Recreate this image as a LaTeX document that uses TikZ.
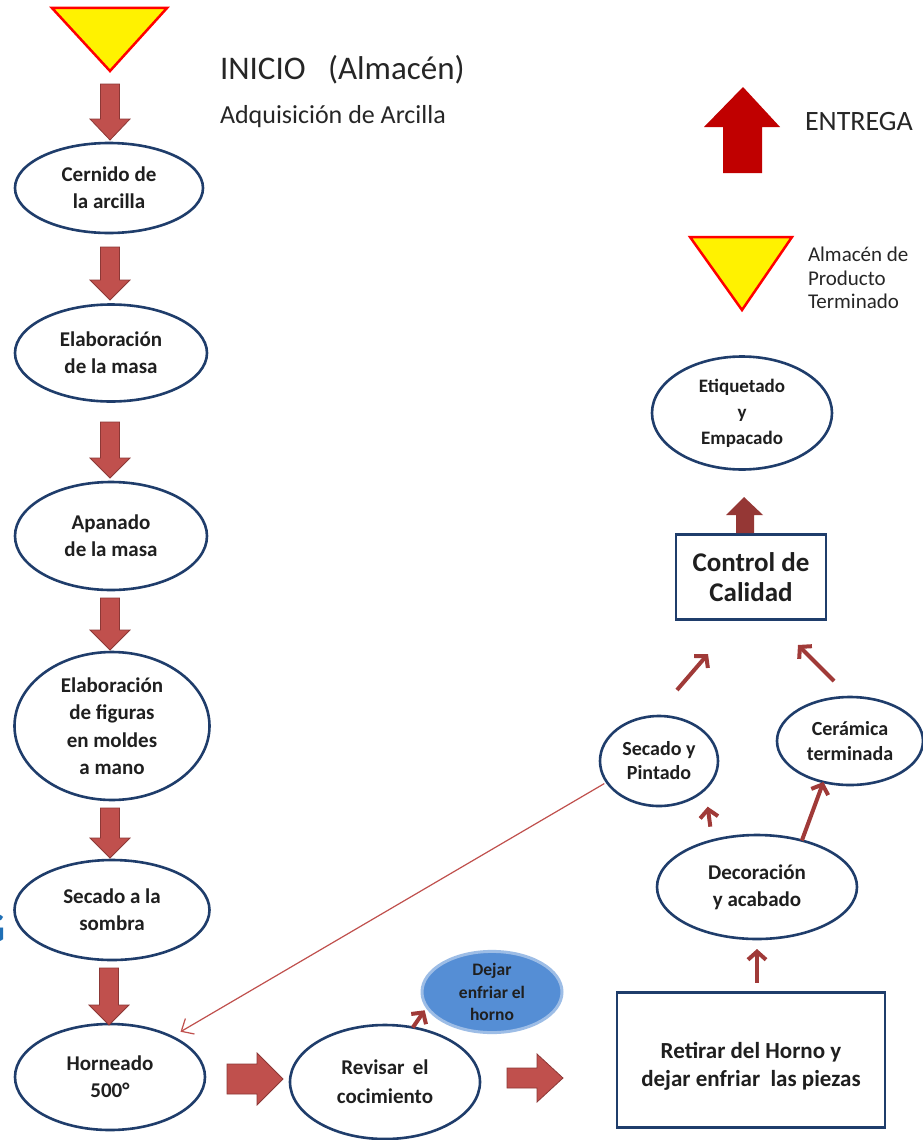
\documentclass[tikz,border=0pt]{standalone}
\usepackage{fontspec}
\setmainfont{Carlito}
\usetikzlibrary{shapes.geometric,arrows.meta,calc}
\definecolor{navy}{HTML}{1F3D6B}
\definecolor{blkfill}{HTML}{C0504D}
\definecolor{blkdraw}{HTML}{8C3836}
\definecolor{darkred}{HTML}{953735}
\definecolor{entrega}{HTML}{C00000}
\definecolor{arrred}{HTML}{A03A38}
\definecolor{blueell}{HTML}{558ED5}
\definecolor{blueedge}{HTML}{9DBDE6}
\definecolor{gblue}{HTML}{1F6FB5}
\newcommand\fsz[2]{\fontsize{#1}{#2}\selectfont}
% vertical block arrow: x, tail y, head base y, tip y, shaft half width, head half width
\newcommand\blockv[6]{\draw[blk] (#1-#5,#2) -- (#1+#5,#2) -- (#1+#5,#3) -- (#1+#6,#3) -- (#1,#4) -- (#1-#6,#3) -- (#1-#5,#3) -- cycle;}
% horizontal block arrow: y, tail x, head base x, tip x, shaft half height, head half height
\newcommand\blockh[6]{\draw[blk] (#2,#1-#5) -- (#3,#1-#5) -- (#3,#1-#6) -- (#4,#1) -- (#3,#1+#6) -- (#3,#1+#5) -- (#2,#1+#5) -- cycle;}
\tikzset{
  proc/.style={ellipse, draw=navy, line width=2.6pt, fill=white, inner sep=0pt, outer sep=0pt,
    align=center, text=black!88, font=\bfseries\fsz{21}{27}},
  blk/.style={fill=blkfill, draw=blkdraw, line width=0.8pt, line join=miter},
  tarrow/.style={draw=arrred, line width=4pt, -{Straight Barb[length=8pt,width=18pt]}},
  fbline/.style={draw=blkfill, line width=1.2pt, -{Straight Barb[length=10pt,width=18pt,line width=1.2pt]}},
  rbox/.style={draw=navy, line width=2.6pt, rectangle, align=center, inner sep=0pt, outer sep=0pt, text=black!88},
  tri/.style={fill=yellow, draw=red, line width=2.5pt, line join=miter},
  plain/.style={inner sep=0pt, outer sep=0pt, text=black!85}
}
\begin{document}
\begin{tikzpicture}[x=1pt, y=-1pt]
\useasboundingbox[fill=white] (0,0) rectangle (922,1140);

% fragment of a blue letter at the left edge (cut off in the original as well)
\node[plain, anchor=east, text=gblue, font=\bfseries\fsz{44}{44}] (gfrag) at (6,928) {G};

% start triangle and titles
\draw[tri] (52,8) -- (167,8) -- (110,71) -- cycle;
\node[plain, anchor=base west, font=\fsz{33}{33}] (inicio) at (220,80) {INICIO\ \ \ (Almacén)};
\node[plain, anchor=base west, font=\fsz{26}{26}] (adq) at (220,123) {Adquisición de Arcilla};

% left column
\node[proc, minimum width=188pt, minimum height=90pt] (n1) at (109,188) {Cernido de\\la arcilla};
\node[proc, minimum width=192pt, minimum height=97pt] (n2) at (111,353) {Elaboración\\de la masa};
\node[proc, minimum width=192pt, minimum height=108pt] (n3) at (111,536) {Apanado\\de la masa};
\node[proc, minimum width=195pt, minimum height=148pt, font=\bfseries\fsz{21}{27.5}] (n4) at (112,726) {Elaboración\\de figuras\\en moldes\\a mano};
\node[proc, minimum width=195pt, minimum height=100pt] (n5) at (112,910) {Secado a la\\sombra};
\node[proc, minimum width=190pt, minimum height=106pt] (horn) at (110,1077) {Horneado\\500°};

\blockv{110}{84}{119}{140}{9.5}{20}
\blockv{110}{247}{280}{300}{9.5}{20}
\blockv{110}{422}{458}{478}{9.5}{20}
\blockv{110}{598}{630}{650}{9.5}{20}
\blockv{110}{808}{838}{858}{9.5}{20}
\blockv{109}{968}{1005}{1025}{9.5}{20}

% bottom row
\node[proc, minimum width=190pt, minimum height=114pt, font=\bfseries\fsz{21}{29}] (rev) at (385,1082) {Revisar\ \,el\\cocimiento};
\node[proc, fill=blueell, draw=blueedge, line width=3pt, minimum width=140pt, minimum height=64pt,
  font=\bfseries\fsz{17.5}{22.5}] (dej) at (492,992) {Dejar\\enfriar el\\horno};
\blockh{1079}{227}{257}{283}{15}{26}
\blockh{1078}{507}{537}{563}{10}{24}
\draw[tarrow, shorten >=4pt] (rev.63) -- (dej.193);

\node[rbox, minimum width=268pt, minimum height=135pt, font=\bfseries\fsz{23}{28}] (box) at (751,1060)
  {\raisebox{-7pt}[\height][\depth]{\begin{tabular}{@{}c@{}}Retirar del Horno y\\dejar enfriar\ \ las piezas\end{tabular}}};

% right column
\node[proc, minimum width=200pt, minimum height=104pt, font=\bfseries\fsz{21}{27}] (deco) at (757,887) {Decoración\\y acabado};
\node[proc, minimum width=118pt, minimum height=90pt, font=\bfseries\fsz{20}{24}] (sec) at (659,761) {Secado y\\Pintado};
\node[proc, minimum width=146pt, minimum height=88pt, font=\bfseries\fsz{20}{25}] (cer) at (850,741) {Cerámica\\terminada};
\node[rbox, minimum width=150pt, minimum height=85pt, font=\bfseries\fsz{27}{30}] (ctrl) at (751,577) {Control de\\Calidad};
\node[proc, minimum width=180pt, minimum height=113pt, font=\bfseries\fsz{19}{26}] (eti) at (742,413) {Etiquetado\\y\\Empacado};

\draw[tarrow, shorten <=10pt, shorten >=10pt] (deco.south |- box.north) -- (deco.south);
\draw[tarrow, shorten <=14pt, shorten >=18pt] (deco.134) -- (sec.-31);
\draw[tarrow] (deco.46) -- (cer.-123);
\coordinate (s1) at (677,690);
\coordinate (s2) at (708,654);
\coordinate (c1) at (834,681);
\coordinate (c2) at (798,645);
\draw[tarrow] (s1) -- (s2);
\draw[tarrow] (c1) -- (c2);
\draw[fbline, shorten <=3pt, shorten >=10pt] (sec.202.8) -- (horn.33.9);

% control -> etiquetado block arrow
\fill[darkred] (736,533) -- (736,515) -- (726,515) -- (744,497) -- (763,515) -- (754,515) -- (754,533) -- cycle;

% finished product store
\draw[tri] (690,237) -- (792,237) -- (742,310) -- cycle;
\node[plain, anchor=west, align=left, font=\fsz{21}{23.5}] (alm) at (808,278) {Almacén de\\Producto\\Terminado};

% delivery
\fill[entrega] (723,173) -- (723,127) -- (704,127) -- (743,87) -- (780,127) -- (762,127) -- (762,173) -- cycle;
\node[plain, anchor=base west, font=\fsz{28}{28}] (ent) at (805,130) {ENTREGA};
\end{tikzpicture}
\end{document}
